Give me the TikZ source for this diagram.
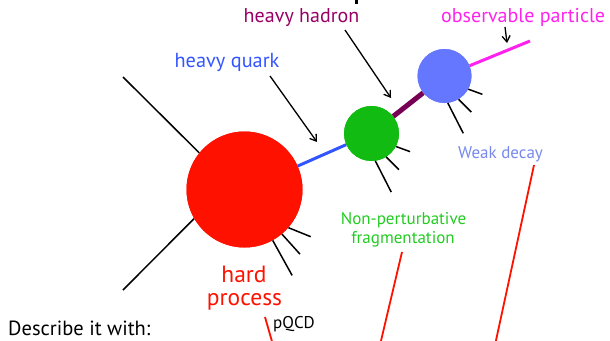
\documentclass[tikz,border=0pt]{standalone}
\usepackage{fontspec}
\setmainfont{PT Sans}
\usetikzlibrary{arrows.meta}
\definecolor{cred}{HTML}{FF1100}
\definecolor{cgreen}{HTML}{11BB11}
\definecolor{cblue}{HTML}{6677FF}
\definecolor{cquark}{HTML}{3355FF}
\definecolor{chadron}{HTML}{770055}
\definecolor{chadtxt}{HTML}{990066}
\definecolor{cpink}{HTML}{FF22EE}
\definecolor{cweak}{HTML}{7788EE}
\definecolor{cnonp}{HTML}{22CC22}
\tikzset{
  blob/.style={circle,inner sep=0pt,draw=none},
  stub/.style={black,line width=1.5pt},
  lbl/.style={inner sep=0pt,anchor=base},
  pointer/.style={black,line width=1.3pt,-{Straight Barb[length=6pt,width=8pt,line width=1.3pt]}},
  redline/.style={cred,line width=1.8pt}
}
\begin{document}
\begin{tikzpicture}[x=1pt,y=-1pt]
\useasboundingbox (0,0) rectangle (610,340);
\begin{scope}
\clip (0,0) rectangle (610,340);
% circles
\node[blob,fill=cred,minimum size=116pt] (hard) at (244.5,189.5) {};
\node[blob,fill=cgreen,minimum size=55pt] (frag) at (371.5,133.5) {};
\node[blob,fill=cblue,minimum size=54pt] (decay) at (444.5,76) {};
% coordinates
\coordinate (ul) at (123,77);
\coordinate (ll) at (123,290);
\coordinate (obs) at (530,41);
% incoming partons
\draw[stub] (ul) -- (hard.141);
\draw[stub] (ll) -- (hard.210);
% connecting lines
\draw[cquark,line width=3pt] (hard) -- (frag);
\draw[chadron,line width=5pt] (frag) -- (decay);
\draw[cpink,line width=3pt] (decay) -- (obs);
% redraw circles on top
\node[blob,fill=cred,minimum size=116pt] at (hard) {};
\node[blob,fill=cgreen,minimum size=55pt] at (frag) {};
\node[blob,fill=cblue,minimum size=54pt] at (decay) {};
% stubs
\draw[stub] (hard.-41) -- ++(-22:24pt);
\draw[stub] (hard.-50) -- ++(-48:27pt);
\draw[stub] (hard.-61) -- ++(-61:40pt);
\draw[stub] (frag.-28) -- ++(-20:15pt);
\draw[stub] (frag.-58) -- ++(-45:18pt);
\draw[stub] (frag.-82) -- ++(-63:35pt);
\draw[stub] (decay.-29) -- ++(-20:15pt);
\draw[stub] (decay.-59) -- ++(-45:18pt);
\draw[stub] (decay.-83) -- ++(-63:34pt);
% labels
\node[lbl,text=cquark,font=\fontsize{20.3}{22}\selectfont] (lq) at (227,67) {heavy quark};
\node[lbl,text=chadtxt,font=\fontsize{20}{22}\selectfont] (lh) at (301.5,22) {heavy hadron};
\node[lbl,text=cpink,font=\fontsize{20}{22}\selectfont,anchor=base west] (lo) at (441,22) {observable particle};
\node[lbl,text=cweak,font=\fontsize{17}{19}\selectfont] (lw) at (500.5,158) {Weak decay};
\node[lbl,text=cnonp,font=\fontsize{17}{19}\selectfont] (ln) at (403.5,224) {Non-perturbative};
\node[lbl,text=cnonp,font=\fontsize{17}{19}\selectfont] (lf) at (403,243) {fragmentation};
\node[lbl,text=cred,font=\fontsize{23.5}{25}\selectfont] (lhard) at (244,282) {hard};
\node[lbl,text=cred,font=\fontsize{23.5}{25}\selectfont] (lproc) at (244.5,305) {process};
\node[lbl,font=\fontsize{20.5}{22}\selectfont,anchor=base west] (ld) at (8,335) {Describe it with:};
\node[lbl,font=\fontsize{17}{19}\selectfont,anchor=base west] (lp) at (273,328) {pQCD};
% pointer arrows
\coordinate (aq0) at (270,76); \coordinate (aq1) at (317,142);
\coordinate (ah0) at (345,30); \coordinate (ah1) at (391,98);
\coordinate (ao0) at (505,27); \coordinate (ao1) at (507,43);
\draw[pointer] (aq0) -- (aq1);
\draw[pointer] (ah0) -- (ah1);
\draw[pointer] (ao0) -- (ao1);
% top partial mark
\draw[black,line width=3pt] (356,0) -- (356,4);
% red lines
\coordinate (r1a) at (265,317); \coordinate (r1b) at (273,345);
\coordinate (r2a) at (402,252); \coordinate (r2b) at (380,345);
\coordinate (r3a) at (534,165); \coordinate (r3b) at (495,345);
\draw[redline] (r1a) -- (r1b);
\draw[redline] (r2a) -- (r2b);
\draw[redline] (r3a) -- (r3b);
\end{scope}
\end{tikzpicture}
\end{document}
